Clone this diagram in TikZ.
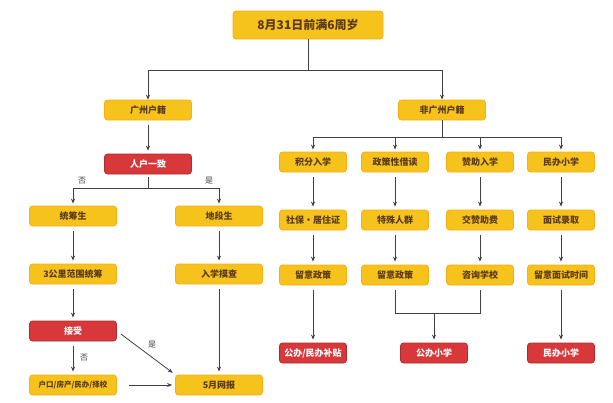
\documentclass[tikz,border=0pt]{standalone}
\usepackage{fontspec}
\setmainfont{Noto Sans CJK SC}
\usetikzlibrary{arrows.meta}
\definecolor{yel}{HTML}{F6C21C}
\definecolor{redb}{HTML}{D8383A}
\definecolor{txt}{HTML}{5A3A1A}
\tikzset{
 yb/.style={fill=yel,draw=yel!70!orange,line width=0.8pt,rounded corners=3pt,minimum width=#1,minimum height=20pt,text=txt,font=\fontsize{9}{10}\selectfont\bfseries,inner sep=1pt},
 yb/.default=87pt,
 rb/.style={yb=#1,fill=redb,draw=redb!80!black,text=white},
 rb/.default=87pt,
 ar/.style={draw=black!75,line width=0.8pt,-{Stealth[length=5pt,width=4pt]},shorten <=5pt,shorten >=3pt},
 arn/.style={draw=black!75,line width=0.8pt,-{Stealth[length=5pt,width=4pt]}},
 ln/.style={draw=black!75,line width=0.8pt},
 lab/.style={font=\fontsize{8}{9}\selectfont,text=black!75}
}
\begin{document}
\begin{tikzpicture}[x=1pt,y=-1pt]
\useasboundingbox (0,0) rectangle (613,402);
\node[yb=150pt,minimum height=28pt,font=\fontsize{12}{14}\selectfont\bfseries] (top) at (308,25) {8月31日前满6周岁};
\node[yb] (gz) at (148,110) {广州户籍};
\node[yb] (fgz) at (442,110) {非广州户籍};
\node[rb] (rh) at (148,164) {人户一致};
\node[yb] (tc) at (73,216) {统筹生};
\node[yb] (dd) at (219,216) {地段生};
\node[yb] (sg) at (73,274) {3公里范围统筹};
\node[yb] (mc) at (219,274) {入学摸查};
\node[rb] (js) at (73,331) {接受};
\node[yb,font=\fontsize{7.5}{9}\selectfont\bfseries] (hk) at (73,385) {户口/房产/民办/择校};
\node[yb] (wb) at (219,385) {5月网报};
% right
\foreach \n/\x/\a/\b/\c in {a/313/积分入学/社保·居住证/留意政策, b/395/政策性借读/特殊人群/留意政策, c/480/赞助入学/交赞助费/咨询学校, d/561/民办小学/面试录取/留意面试时间}{
 \node[yb=67pt] (\n1) at (\x,162) {\a};
 \node[yb=67pt] (\n2) at (\x,220) {\b};
 \node[yb=67pt] (\n3) at (\x,275) {\c};
 \draw[ar] (\n1) -- (\n2);
 \draw[ar] (\n2) -- (\n3);
}
\node[rb=67pt] (ra) at (313,353) {公办/民办补贴};
\node[rb=67pt] (rc) at (434,353) {公办小学};
\node[rb=67pt] (rd) at (561,353) {民办小学};
\draw[ar] (a3) -- (ra);
\draw[ar] (d3) -- (rd);
\coordinate (m) at (434,313);
\draw[ln,shorten <=5pt] (b3.south) |- (m);
\draw[ln,shorten <=5pt] (c3.south) |- (m);
\draw[arn,shorten >=3pt] (m) -- (rc);
% top branches
\coordinate (t) at (308,70);
\draw[ln] (top) -- (t);
\draw[arn] (t) -| (gz);
\draw[arn] (t) -| (fgz);
\coordinate (f) at (442,137);
\draw[ln] (fgz) -- (f);
\foreach \n in {a1,b1,c1,d1}{\draw[arn,shorten >=2pt] (f) -| (\n);}
\draw[ar] (gz) -- (rh);
\coordinate (r) at (148,188);
\draw[ln,shorten <=3pt] (rh) -- (r);
\draw[arn,shorten >=2pt] (r) -| (tc);
\draw[arn,shorten >=2pt] (r) -| (dd);
\node[lab] (l1) at (82,181) {否};
\node[lab] (l2) at (209,181) {是};
\draw[ar] (tc) -- (sg);
\draw[ar] (sg) -- (js);
\draw[ar] (dd) -- (mc);
\draw[ar] (mc) -- (wb);
\draw[ar] (js) -- (hk);
\node[lab] (l3) at (84,358) {否};
\draw[ar] (js.east) -- (wb.north west);
\node[lab] (l4) at (152,345) {是};
\draw[ar,shorten <=12pt] (hk) -- (wb);
\end{tikzpicture}
\end{document}
